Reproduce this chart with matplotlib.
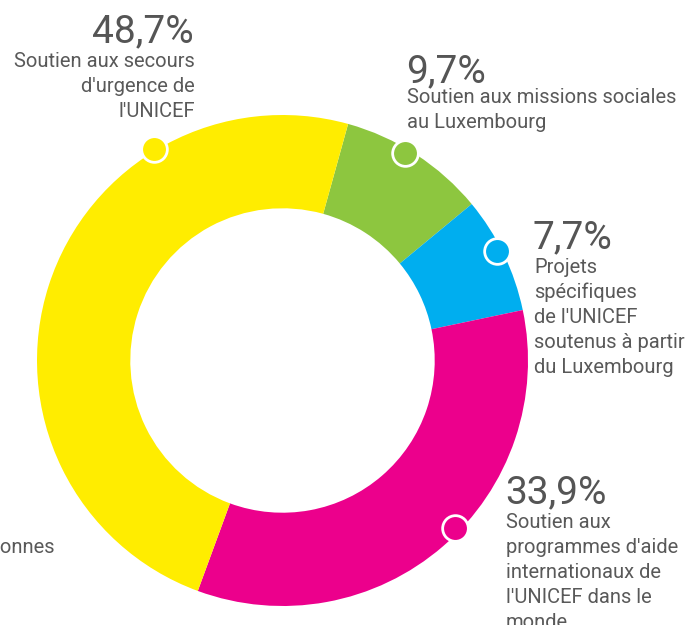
import matplotlib
matplotlib.use("Agg")
import matplotlib.pyplot as plt
import numpy as np

# ---- data ----
categories = [
    "Soutien aux missions sociales\nau Luxembourg",
    "Projets\nspécifiques\nde l'UNICEF\nsoutenus à partir\ndu Luxembourg",
    "Soutien aux\nprogrammes d'aide\ninternationaux de\nl'UNICEF dans le\nmonde",
    "Soutien aux secours\nd'urgence de\nl'UNICEF",
]
values = [9.7, 7.7, 33.9, 48.7]
pct_labels = ["9,7%", "7,7%", "33,9%", "48,7%"]
colors = ["#8DC63F", "#00AEEF", "#EC008C", "#FFED00"]
marker_frac = [0.43, 0.45, 0.46, 0.733]
marker_r = [0.98, 0.98, 0.98, 1.01]
extra_label = "personnes"

W, H = 690, 625
fig = plt.figure(figsize=(W / 100, H / 100), dpi=100)
cx, cy, R = 282.5, 360.5, 245.5
ax = fig.add_axes([(cx - R) / W, (H - cy - R) / H, 2 * R / W, 2 * R / H])

start_cw = 15.5  # degrees clockwise from top
ax.pie(values, colors=colors, startangle=90 - start_cw, counterclock=False,
       radius=1.0, wedgeprops=dict(width=0.38, linewidth=0))
ax.set_xlim(-1, 1)
ax.set_ylim(-1, 1)
ax.set_aspect("equal")
ax.axis("off")

# markers on wedges
total = sum(values)
cum = 0.0
for v, c, f, r in zip(values, colors, marker_frac, marker_r):
    a = np.deg2rad(start_cw + 360 * (cum + f * v) / total)
    ax.plot(r * np.sin(a), r * np.cos(a), "o", ms=18.5, mfc=c, mec="white",
            mew=2, clip_on=False, zorder=5)
    cum += v

txt_col = "#595959"
pct_kw = dict(fontsize=28, color="#555555", family="Roboto", fontweight="normal",
              va="baseline")
desc_kw = dict(fontsize=14.5, color=txt_col, family="Roboto", fontweight="normal",
               va="baseline")


def fx(px):
    return px / W


def fy(py):
    return 1 - py / H


# label placement (pixels): pct pos, desc pos, alignment
layout = [
    ((406, 82), (407, 103), "left"),
    ((533, 248), (534, 273), "left"),
    ((505, 503), (506, 528), "left"),
    ((194, 42), (195, 67), "right"),
]
for lab, desc, (pp, dp, ha) in zip(pct_labels, categories, layout):
    fig.text(fx(pp[0]), fy(pp[1]), lab, ha=ha, **pct_kw)
    lines = desc.split("\n")
    for i, ln in enumerate(lines):
        fig.text(fx(dp[0]), fy(dp[1] + i * 25), ln, ha=ha, **desc_kw)

fig.text(fx(55), fy(553), extra_label, ha="right", **desc_kw)

fig.savefig("out.png", dpi=100, facecolor="white")
